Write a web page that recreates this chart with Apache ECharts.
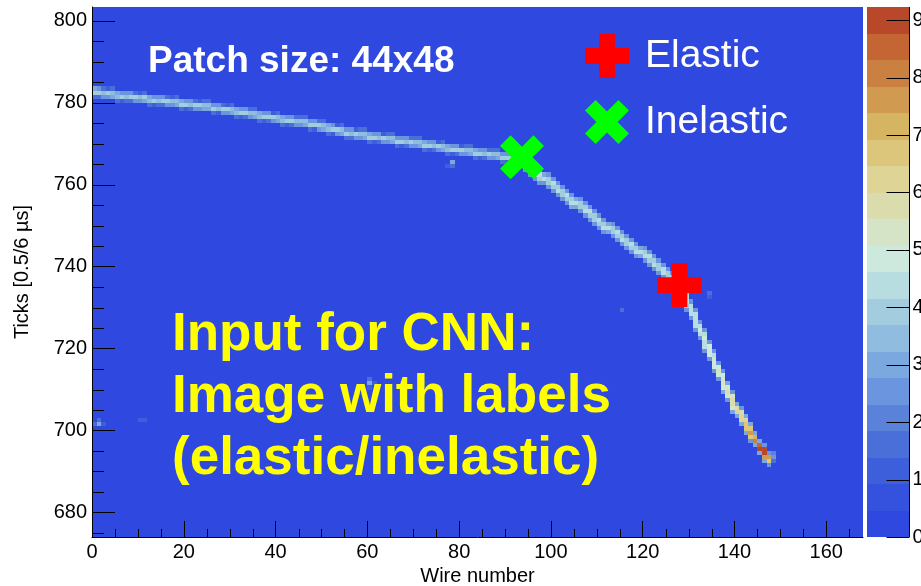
<!DOCTYPE html>
<html><head><meta charset="utf-8">
<script src="https://cdn.jsdelivr.net/npm/echarts@6/dist/echarts.min.js"></script>
<style>html,body{margin:0;padding:0;background:#fff}#c{width:921px;height:586px}</style>
</head><body><div id="c"></div>
<script>
// ---- axes ----
const wireRange = [0, 168];
const tickRange = [674, 803.4];
const xTickLabels = [0, 20, 40, 60, 80, 100, 120, 140, 160];
const xMinorTicks = [5,10,15,25,30,35,45,50,55,65,70,75,85,90,95,105,110,115,125,130,135,145,150,155,165];
const yTickLabels = [680, 700, 720, 740, 760, 780, 800];
const yMinorTicks = [675,685,690,695,705,710,715,725,730,735,745,750,755,765,770,775,785,790,795];
const zRange = [0, 9.23];
const zTickLabels = [0, 1, 2, 3, 4, 5, 6, 7, 8, 9];
const palette = ['#2f48e0','#3552df','#3e5fdc','#4a6fd9','#5a82db','#6b95df','#7ca8e0','#8fbcdf','#a3cddf','#b8dde0',
                 '#cde8dd','#d5e3c6','#dbdcad','#ded495','#dbc67c','#d6b562','#d09b50','#ca8040','#c36634','#b9482a'];

// ---- track: [wire, top tick, values of ticks top..down] ----
const trackShallow = [
 [0,783,2.8,3.9,1.5],[1,783,2.6,3.7,1.4],[2,783,1.4,3.6,2.6],[3,783,1.3,3.7,2.7],[4,783,1.5,3.5,2.9],[5,782,2.8,3.6,1.4],
 [6,782,2.6,3.8,1.3],[7,782,2.5,3.6,1.5],[8,782,2.7,3.7,1.4],[9,782,1.4,3.7,2.6],[10,782,1.3,3.6,2.7],[11,782,1.5,3.8,2.8],
 [12,781,2.8,3.6,1.4],[13,781,2.6,3.9,1.3],[14,781,2.5,3.5,1.5],[15,781,2.7,3.7,1.4],[16,781,1.4,3.8,2.6],[17,781,1.3,3.6,2.7],
 [18,781,1.5,3.5,2.9],[19,780,2.8,3.7,1.4],[20,780,2.6,3.9,1.3],[21,780,2.6,3.6,1.5],[22,780,1.4,3.7,2.6],[23,780,1.3,3.9,2.6],
 [24,780,1.5,3.6,2.8],[25,780,1.6,3.4,3.0],[26,779,2.7,3.8,1.4],[27,779,2.6,3.6,1.3],[28,779,1.4,3.7,2.6],[29,779,1.3,3.8,2.5],
 [30,779,1.5,3.6,2.8],[31,778,2.8,3.6,1.4],[32,778,2.6,3.9,1.3],[33,778,2.6,3.7,1.5],[34,778,1.4,3.6,2.6],[35,778,1.5,3.5,2.9],
 [36,777,2.9,3.5,1.4],[37,777,2.6,3.8,1.3],[38,777,2.5,3.7,1.5],[39,777,1.3,3.9,2.5],[40,777,1.5,3.6,2.8],[41,776,2.8,3.6,1.4],
 [42,776,2.5,3.8,1.3],[43,776,2.6,3.7,1.5],[44,776,1.4,3.6,2.6],[45,776,1.4,3.6,2.7],[46,776,1.6,3.4,3.0],[47,775,2.7,3.7,1.4],
 [48,775,2.5,3.8,1.3],[49,775,1.4,3.7,2.6],[50,775,1.5,3.5,2.9],[51,774,2.8,3.6,1.4],[52,774,2.6,3.9,1.3],[53,774,1.3,3.7,2.5],
 [54,774,1.5,3.6,2.8],[55,773,2.7,3.7,1.4],[56,773,2.6,3.6,1.5],[57,773,1.3,3.8,2.5],[58,773,1.4,3.6,2.7],[59,773,1.5,3.5,2.9],
 [60,772,2.8,3.7,1.4],[61,772,2.5,4.0,1.3],[62,772,2.6,3.6,1.5],[63,772,1.3,3.7,2.5],[64,772,1.4,3.6,2.7],[65,772,1.6,3.4,2.9],
 [66,771,2.7,3.8,1.4],[67,771,2.5,3.7,1.3],[68,771,2.6,3.6,1.5],[69,771,1.4,3.9,2.6],[70,771,1.4,3.6,2.7],[71,771,1.5,3.5,2.9],
 [72,770,2.8,3.7,1.4],[73,770,2.5,3.8,1.3],[74,770,2.7,3.6,1.5],[75,770,1.3,3.7,2.5],[76,770,1.5,3.6,2.8],[77,769,2.9,3.6,1.4],
 [78,769,2.5,3.9,1.3],[79,769,2.6,3.7,1.5],[80,769,1.3,3.8,2.5],[81,769,1.4,3.6,2.7],[82,769,1.5,3.5,2.9],[83,768,2.8,3.7,1.4],
 [84,768,2.5,3.9,1.3],[85,768,2.6,3.6,1.5],[86,768,1.4,3.8,2.6],[87,768,1.4,3.6,2.7],[88,768,1.5,3.6,2.8],[89,767,2.7,3.8,1.4],
 [90,767,2.6,3.9,1.3],[91,767,2.5,3.7,1.5],[92,767,1.4,3.8,2.7]
];
const trackMiddle = [
 [93,767,2.6,3.9,4.0,2.4],[94,766,2.5,4.0,4.1,2.6],[95,765,2.7,4.1,3.9,2.5],[96,764,2.4,4.0,4.2,2.7],[97,763,2.6,4.3,4.0,2.4],
 [98,762,2.8,4.4,2.7],[99,762,2.5,3.9,4.1,2.6],[100,761,2.4,4.2,4.0,2.7],[101,760,2.6,4.0,4.3,2.5],[102,759,2.7,4.1,3.9,2.4],
 [103,758,2.5,4.3,4.1,2.6],[104,757,2.4,4.0,4.2,2.8],[105,756,2.9,4.5,2.8],[106,756,2.5,4.1,4.0,2.6],[107,755,2.6,3.9,4.2,2.5],
 [108,754,2.4,4.2,4.1,2.7],[109,753,2.7,4.1,4.0,2.4],[110,752,2.5,4.3,3.9,2.6],[111,751,2.6,4.0,4.2,2.5],[112,750,2.8,4.4,2.9],
 [113,750,2.5,4.0,4.1,2.7],[114,749,2.6,4.2,4.0,2.4],[115,748,2.4,4.1,4.3,2.6],[116,747,2.7,3.9,4.1,2.5],[117,746,2.5,4.2,4.0,2.7],
 [118,745,2.6,4.1,4.3,2.4],[119,744,2.9,4.5,2.8],[120,744,2.4,4.0,4.2,2.6],[121,743,2.7,4.3,3.9,2.5],[122,742,2.5,4.1,4.2,2.6],
 [123,741,2.6,4.0,4.1,2.4],[124,740,2.4,4.2,4.3,2.7],[125,739,2.7,4.1,4.0,2.5],[126,738,2.5,4.3,4.1,2.6],[127,737,2.8,4.4,2.9]
];
const trackSteep = [
 [128,736,2.8,4.1,4.2,4.0,2.6],[129,734,2.6,4.0,4.3,4.2,4.1,2.5],[130,731,2.5,4.3,4.5,4.2,2.6],
 [131,729,2.4,4.2,4.4,4.6,4.3,2.7],[132,726,2.6,4.5,4.7,4.4,2.5],[133,724,2.5,4.4,4.8,4.6,4.5,2.6],
 [134,721,2.7,4.7,5.0,4.8,2.4],[135,719,2.5,4.6,5.1,4.9,4.7,2.6],[136,716,2.6,5.0,5.3,4.9,2.7],
 [137,714,2.4,4.9,5.4,5.2,5.0,2.8],[138,711,2.8,5.3,5.7,5.2,2.6],[139,709,2.6,5.2,5.9,5.6,5.4,2.9],
 [140,706,2.9,5.8,6.3,2.8],[141,705,2.7,5.7,6.4,6.1,2.9],[142,703,2.8,6.2,6.9,6.5,2.8],[143,701,2.9,6.6,7.6,6.8,2.7],
 [144,699,2.9,7.3,7.9,2.8],[145,697,2.8,8.4,9.1,2.9],[146,696,2.7,8.8,9.2,7.8,2.8],[147,694,2.6,7.4,6.6,2.5],
 [148,694,2.0,2.4,1.8]
];
// isolated hits: [wire, tick, value]
const isolatedHits = [
 [78,765,2.9],[78,764,1.8],[77,764,1.2],[134,733,1.5],[134,732,1.1],[115,729,1.4],
 [1,702,1.6],[1,701,3.2],[0,701,1.4],[2,701,1.2],[10,702,1.3],[11,702,1.1],
 [60,712,1.6],[60,711,2.9],[60,710,1.2],[61,711,1.2]
];
// labelled interaction points [wire, tick]
const elasticPoint = [[128.0, 735.5]];
const inelasticPoint = [[93.7, 766.7]];

function expandColumns(cols) {
  const out = [];
  cols.forEach(c => { for (let i = 2; i < c.length; i++) out.push([c[0], c[1] - (i - 2), c[i]]); });
  return out;
}
const cells = [].concat(expandColumns(trackShallow), expandColumns(trackMiddle), expandColumns(trackSteep), isolatedHits);
const step = (zRange[1] - zRange[0]) / palette.length;
function colorOf(v) { return palette[Math.max(0, Math.min(palette.length - 1, Math.floor((v - zRange[0]) / step)))]; }

const FONT = 'Liberation Sans, Arial, Helvetica, sans-serif';
const crossPath = 'path://M32,0H68V32H100V68H68V100H32V68H0V32H32Z';
const xPath = 'path://M0,24L24,0L50,26L76,0L100,24L74,50L100,76L76,100L50,74L24,100L0,76L26,50Z';
const black = '#000';

const chart = echarts.init(document.getElementById('c'), null, {renderer: 'canvas'});
chart.setOption({
  backgroundColor: '#fff',
  animation: false,
  grid: [
    {left: 92, top: 7, width: 771, height: 530, show: true, backgroundColor: palette[0], borderWidth: 0, containLabel: false, outerBoundsMode: 'none'},
    {left: 867, top: 7, width: 42, height: 530, show: false, containLabel: false, outerBoundsMode: 'none'}
  ],
  xAxis: [
    {type: 'value', gridIndex: 0, min: wireRange[0], max: wireRange[1], position: 'bottom', z: 3,
     axisLine: {show: true, lineStyle: {color: black, width: 1}},
     axisTick: {show: true, inside: true, length: 16, lineStyle: {color: black}, customValues: xTickLabels},
     axisLabel: {show: true, color: black, fontSize: 20, fontFamily: FONT, margin: 5, customValues: xTickLabels},
     splitLine: {show: false},
     name: 'Wire number', nameLocation: 'middle', nameGap: 26,
     nameTextStyle: {color: black, fontSize: 20, fontFamily: FONT}},
    {type: 'value', gridIndex: 1, min: 0, max: 1, show: false}
  ],
  yAxis: [
    {type: 'value', gridIndex: 0, min: tickRange[0], max: tickRange[1], position: 'left', z: 3,
     axisLine: {show: true, lineStyle: {color: black, width: 1}},
     axisTick: {show: true, inside: true, length: 23, lineStyle: {color: black}, customValues: yTickLabels},
     axisLabel: {show: true, color: black, fontSize: 20, fontFamily: FONT, margin: 5, customValues: yTickLabels},
     splitLine: {show: false},
     name: 'Ticks [0.5/6 \u00b5s]', nameLocation: 'middle', nameGap: 60, nameRotate: 90,
     nameTextStyle: {color: black, fontSize: 20, fontFamily: FONT}},
    {type: 'value', gridIndex: 1, min: zRange[0], max: zRange[1], show: false}
  ],
  legend: {
    orient: 'vertical', left: 585, top: 34, padding: 0, itemGap: 22, itemWidth: 44, itemHeight: 44,
    selectedMode: false,
    textStyle: {color: '#fff', fontSize: 39, fontFamily: FONT, padding: [5, 0, 0, 11]},
    data: [{name: 'Elastic', icon: crossPath}, {name: 'Inelastic', icon: xPath}]
  },
  series: [
    {type: 'custom', name: 'hits', xAxisIndex: 0, yAxisIndex: 0, data: cells, encode: {x: 0, y: 1}, z: 1,
     renderItem: function (params, api) {
       const w = api.value(0), t = api.value(1);
       const a = api.coord([w, t + 1]), b = api.coord([w + 1, t]);
       const x0 = Math.round(a[0]), y0 = Math.round(a[1]), x1 = Math.round(b[0]), y1 = Math.round(b[1]);
       return {type: 'rect', shape: {x: x0, y: y0, width: x1 - x0, height: y1 - y0}, style: {fill: colorOf(api.value(2))}};
     }},
    {type: 'scatter', name: 'Elastic', xAxisIndex: 0, yAxisIndex: 0, data: elasticPoint,
     symbol: crossPath, symbolSize: 44, itemStyle: {color: '#ff0000', opacity: 1}, z: 5},
    {type: 'scatter', name: 'Inelastic', xAxisIndex: 0, yAxisIndex: 0, data: inelasticPoint,
     symbol: xPath, symbolSize: 44, itemStyle: {color: '#00ff00', opacity: 1}, z: 5}
  ]
});

// extra graphics: annotation texts, minor ticks and the colour scale (positions from the chart's own scales)
const els = [
  {type: 'text', x: 148, y: 62, z: 10, style: {text: 'Patch size: 44x48', fill: '#fff', fontSize: 37, fontWeight: 'bold', fontFamily: FONT, verticalAlign: 'middle'}},
  {type: 'text', x: 172, y: 304, z: 10, style: {text: 'Input for CNN:\nImage with labels\n(elastic/inelastic)', fill: '#ffff00', fontSize: 53, fontWeight: 'bold', fontFamily: FONT, lineHeight: 62, verticalAlign: 'top'}}
];
xMinorTicks.forEach(v => {
  const p = chart.convertToPixel({xAxisIndex: 0, yAxisIndex: 0}, [v, tickRange[0]]);
  const x = Math.round(p[0]) + 0.5;
  els.push({type: 'line', z: 3, shape: {x1: x, y1: p[1], x2: x, y2: p[1] - 8}, style: {stroke: black, lineWidth: 1}});
});
yMinorTicks.forEach(v => {
  const p = chart.convertToPixel({xAxisIndex: 0, yAxisIndex: 0}, [wireRange[0], v]);
  const y = Math.round(p[1]) + 0.5;
  els.push({type: 'line', z: 3, shape: {x1: p[0], y1: y, x2: p[0] + 12, y2: y}, style: {stroke: black, lineWidth: 1}});
});
// colour scale: horizontal placement beside the frame, vertical placement from the colour axis
const frameRight = Math.round(chart.convertToPixel({xAxisIndex: 0, yAxisIndex: 0}, [wireRange[1], tickRange[0]])[0]);
const cbLeft = frameRight + 4, cbRight = cbLeft + 42;
const cb = {xAxisIndex: 1, yAxisIndex: 1};
palette.forEach((c, k) => {
  const yTop = Math.round(chart.convertToPixel(cb, [0, zRange[0] + (k + 1) * step])[1]);
  const yBot = Math.round(chart.convertToPixel(cb, [0, zRange[0] + k * step])[1]);
  els.push({type: 'rect', z: 2, shape: {x: cbLeft, y: yTop, width: cbRight - cbLeft, height: yBot - yTop}, style: {fill: c}});
});
const zx = cbRight + 0.5;
const zyTop = chart.convertToPixel(cb, [0, zRange[1]])[1], zyBot = chart.convertToPixel(cb, [0, zRange[0]])[1];
els.push({type: 'line', z: 3, shape: {x1: zx, y1: zyTop, x2: zx, y2: zyBot}, style: {stroke: black, lineWidth: 1}});
zTickLabels.forEach(v => {
  const py = chart.convertToPixel(cb, [0, v])[1];
  const y = Math.round(py) + 0.5;
  els.push({type: 'line', z: 3, shape: {x1: zx - 23, y1: y, x2: zx, y2: y}, style: {stroke: black, lineWidth: 1}});
  els.push({type: 'text', z: 3, x: zx + 3, y: py, style: {text: String(v), fill: black, fontSize: 20, fontFamily: FONT, verticalAlign: 'middle', align: 'left'}});
});
chart.setOption({graphic: {elements: els}});
</script></body></html>
